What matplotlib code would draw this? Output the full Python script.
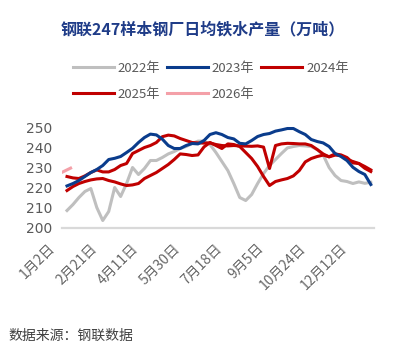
import matplotlib
matplotlib.use('Agg')
import matplotlib.pyplot as plt
import matplotlib.transforms as mtransforms

plt.rcParams['font.family'] = ['Noto Sans CJK SC', 'DejaVu Sans']

# weekly hot-metal output, 247 mills (10k t/day), week 0 = early Jan
weeks = list(range(52))
y2022 = [208.5, 211.5, 215, 218, 219.5, 210, 203.5, 208, 220, 215.5,
         222, 230, 226.5, 229.5, 233.5, 233.5, 235, 236.8, 238, 239.5,
         240.5, 242, 243.2, 243.2, 241.5, 237.5, 233, 228.5, 222, 215,
         213.5, 216.5, 222, 227, 231, 234, 237, 239.8, 240.5, 241,
         240.8, 240.5, 239, 236.3, 230, 226, 223.5, 223, 222, 222.8,
         222.1, 222.6]
y2023 = [220.8, 222, 223.5, 225.5, 227.5, 229, 231, 234, 234.6, 235.5,
         237.5, 239.6, 242.5, 245, 246.7, 246.3, 244.2, 241, 239.5, 239.5,
         241, 242, 241.8, 243.5, 246.5, 247.4, 246.5, 245, 244.3, 242.1,
         241.8, 243.5, 245.5, 246.5, 247, 248.2, 248.8, 249.5, 249.5, 247.9,
         246.5, 244, 243, 242.3, 240.5, 237, 235.5, 233.5, 230.1, 228,
         226.5, 221.5]
y2024 = [218.5, 220.5, 222, 223, 223.8, 224.3, 224.5, 223.5, 222.8, 221.8,
         221, 221.3, 222, 224.5, 226, 227.5, 229.5, 231.5, 234, 236.8,
         236.5, 236, 236.3, 240.3, 242.5, 241, 239.5, 241.8, 241.5, 240.5,
         237.5, 234.5, 230.5, 225.5, 221, 223, 223.8, 224.5, 225.8, 228.5,
         232.8, 234.5, 235.5, 236.2, 235.4, 236.8, 236.3, 235, 232.3, 232,
         230.5, 228.8]
y2025 = [225.5, 224.8, 224.5, 225.8, 227.5, 228.8, 227.8, 227.8, 229, 231,
         232, 237, 238.5, 240, 241, 242.5, 245.4, 246.2, 245.8, 244.5,
         243.5, 242.5, 242.3, 242.2, 242.3, 241.5, 241, 240.8, 241, 240.8,
         240.7, 240.6, 240.8, 240.2, 229.5, 241, 241.8, 242.1, 242, 241.8,
         241.8, 241, 239, 236.8, 235.3, 236.2, 236, 234, 233, 232,
         229.6, 228]
wk2026 = [-0.7, 0.6]
y2026 = [227.8, 229.7]

tick_weeks = [0, 7, 14, 21, 28, 35, 42, 49]
tick_labels = ['1月2日', '2月21日', '4月11日', '5月30日', '7月18日',
               '9月5日', '10月24日', '12月12日']

fig = plt.figure(figsize=(4.13, 3.54), dpi=100, facecolor='white')
ax = fig.add_axes([0.150, 0.3573, 0.755, 0.2938])

lw = 2.2
l22, = ax.plot(weeks, y2022, color='#BFBFBF', lw=lw, label='2022年')
l24, = ax.plot(weeks, y2024, color='#C00000', lw=lw, label='2024年')
l25, = ax.plot(weeks, y2025, color='#C00000', lw=lw, label='2025年')
l23, = ax.plot(weeks, y2023, color='#0A3C8C', lw=lw, label='2023年')
l26, = ax.plot(wk2026, y2026, color='#F4A0A8', lw=lw, label='2026年')

ax.set_xlim(-0.85, 51.5)
ax.set_ylim(200, 252)
ax.set_yticks(range(200, 251, 10))
ax.set_xticks(tick_weeks)
ax.set_xticklabels(tick_labels, rotation=45, ha='right', va='center',
                   rotation_mode='anchor')

for s in ['top', 'right', 'left']:
    ax.spines[s].set_visible(False)
ax.spines['bottom'].set_color('#D9D9D9')
ax.spines['bottom'].set_linewidth(1.6)
ax.tick_params(axis='both', length=0, colors='#595959', labelsize=10)
ax.tick_params(axis='x', colors='#666666')
ax.tick_params(axis='y', pad=7)
ax.tick_params(axis='x', pad=12)
for t in ax.get_yticklabels():
    t.set_family('DejaVu Sans')

# nudge rotated date labels left/down so their ends sit left of the tick
shift = mtransforms.ScaledTranslation(-14 / 100, -2 / 100, fig.dpi_scale_trans)
for t in ax.get_xticklabels():
    t.set_transform(t.get_transform() + shift)

# row-major legend order: 2022 2023 2024 / 2025 2026
fig.legend(handles=[l22, l25, l23, l26, l24], ncol=3, frameon=False,
           loc='upper left', bbox_to_anchor=(0.148, 0.859),
           fontsize=9.5, labelcolor='#595959', handlelength=3.1,
           handletextpad=0.3, columnspacing=0.5, labelspacing=1.0)

fig.text(0.49, 0.918, '钢联247样本钢厂日均铁水产量（万吨）', ha='center',
         va='center', fontsize=11.5, fontweight='bold', color='#1F3C88')
fig.text(0.02, 0.052, '数据来源：钢联数据', ha='left', va='center',
         fontsize=10, color='#404040')

fig.savefig('out.png', dpi=100, facecolor='white')
